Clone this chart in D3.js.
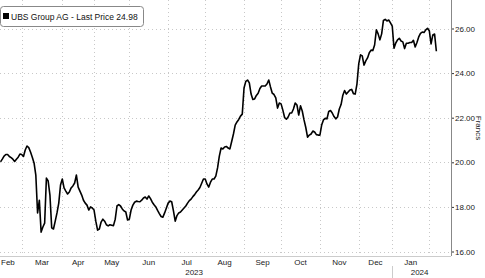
<!DOCTYPE html>
<html lang="en">
<head>
    <meta charset="UTF-8">
    <title>UBS Group AG - Last Price</title>
    <style>
        html, body { margin: 0; padding: 0; background: #fff; }
        svg { display: block; font-family: "Liberation Sans", Arial, sans-serif; }
        .grid line { stroke: #c8c8c8; stroke-width: 1; stroke-dasharray: 1,3; shape-rendering: crispEdges; }
        .tick-label { font-size: 8px; fill: #222; }
    </style>
</head>
<body>
    <svg width="485" height="278"></svg>
    <script src="https://d3js.org/d3.v7.min.js"></script>
    <script>
        // daily closing prices (CHF), one per trading session, mid Feb 2023 -> early Feb 2024
        const prices = [
            20.02, 20.14, 20.28, 20.35, 20.35, 20.26, 20.21, 20.14, 20.04, 20.14,
            20.23, 20.37, 20.35, 20.26, 20.55, 20.73, 20.66, 20.46, 20.23, 19.97,
            19.43, 17.73, 18.30, 16.87, 17.10, 17.27, 19.29, 19.16, 18.53, 17.06,
            17.01, 17.36, 17.73, 18.17, 18.98, 19.25, 18.85, 18.71, 18.58, 18.67,
            18.85, 18.94, 19.07, 19.43, 18.89, 18.71, 18.53, 18.30, 18.17, 18.08,
            17.86, 18.00, 17.95, 17.86, 17.36, 16.96, 17.01, 17.32, 17.45, 17.36,
            17.20, 17.15, 17.20, 17.18, 17.16, 17.45, 18.04, 18.10, 18.04, 17.91,
            17.82, 17.77, 17.41, 17.45, 17.86, 18.08, 18.21, 18.26, 18.24, 18.23,
            18.30, 18.40, 18.44, 18.35, 18.49, 18.37, 18.21, 18.10, 18.00, 17.84,
            17.70, 17.57, 17.54, 17.73, 17.95, 18.17, 18.26, 18.23, 17.82, 17.36,
            17.61, 17.73, 17.77, 17.86, 17.95, 18.04, 18.17, 18.28, 18.35, 18.46,
            18.55, 18.67, 18.76, 18.87, 19.06, 19.25, 19.25, 19.03, 18.89, 19.11,
            19.25, 19.25, 19.38, 19.75, 20.28, 20.64, 20.60, 20.69, 20.71, 20.64,
            20.60, 20.93, 21.27, 21.67, 21.81, 21.92, 22.07, 22.16, 23.33, 23.63,
            23.69, 23.56, 23.06, 22.82, 22.84, 23.00, 23.10, 23.31, 23.42, 23.42,
            23.42, 23.51, 23.69, 23.38, 23.10, 23.04, 22.89, 22.43, 22.66, 22.62,
            22.34, 22.01, 21.93, 22.03, 22.21, 22.21, 22.39, 22.66, 22.57, 22.12,
            22.53, 22.30, 21.90, 21.56, 21.13, 21.22, 21.27, 21.40, 21.36, 21.24,
            21.22, 21.22, 21.67, 21.90, 21.97, 21.95, 22.28, 22.32, 22.21, 22.05,
            21.95, 22.03, 22.39, 22.59, 23.01, 23.22, 23.06, 23.15, 23.24, 23.27,
            23.08, 23.06, 23.51, 24.41, 24.82, 24.77, 24.36, 24.55, 24.68, 24.91,
            25.03, 25.01, 25.26, 25.94, 25.76, 25.49, 25.76, 26.36, 26.41, 26.34,
            26.38, 26.25, 26.11, 25.12, 25.35, 25.49, 25.56, 25.44, 25.40, 25.10,
            25.34, 25.34, 25.37, 25.37, 25.47, 25.17, 25.37, 25.62, 25.78, 25.84,
            25.82, 25.94, 26.01, 25.90, 25.31, 25.71, 25.75, 24.98
        ];

        // month labels and the session index where each month begins
        const monthNames = ["Feb", "Mar", "Apr", "May", "Jun", "Jul", "Aug", "Sep", "Oct", "Nov", "Dec", "Jan"];
        const monthStarts = [-8, 12, 35, 53, 73, 95, 116, 138, 159, 181, 203, 222, 243];
        const yearNames = ["2023", "2024"];
        const yearStarts = [-8, 222];
        const yTicks = [16, 18, 20, 22, 24, 26];

        const svg = d3.select("svg");
        const plotRight = 451;
        const plotBottom = 256;

        const x = d3.scaleLinear().domain([-0.3, 255.3]).range([0, plotRight]);
        const y = d3.scaleLinear().domain([16, 26]).range([251.5, 28.5]);

        // gridlines
        const grid = svg.append("g").attr("class", "grid");
        grid.selectAll(".h")
            .data(yTicks)
            .enter().append("line")
            .attr("x1", 0).attr("x2", plotRight)
            .attr("y1", d => Math.round(y(d)) + 0.5).attr("y2", d => Math.round(y(d)) + 0.5);
        grid.selectAll(".v")
            .data(monthStarts.filter(d => x(d) > 0))
            .enter().append("line")
            .attr("x1", d => Math.round(x(d)) + 0.5).attr("x2", d => Math.round(x(d)) + 0.5)
            .attr("y1", 0).attr("y2", plotBottom);

        // right axis
        const yAxis = d3.axisRight(y).tickValues(yTicks).tickSize(3).tickFormat(d3.format(".2f"));
        const ay = svg.append("g")
            .attr("transform", `translate(${plotRight},0)`)
            .call(yAxis);
        ay.select(".domain").remove();
        ay.selectAll(".tick line").attr("stroke", "#333");
        ay.selectAll(".tick text")
            .attr("class", "tick-label")
            .attr("x", 4)
            .attr("font-size", null).attr("font-family", null);
        svg.append("line")
            .attr("x1", plotRight + 0.5).attr("x2", plotRight + 0.5)
            .attr("y1", 0).attr("y2", plotBottom)
            .attr("stroke", "#888");
        svg.append("line")
            .attr("x1", 0).attr("x2", plotRight)
            .attr("y1", plotBottom + 0.5).attr("y2", plotBottom + 0.5)
            .attr("stroke", "#ccc");

        svg.append("text")
            .attr("class", "tick-label")
            .attr("transform", `translate(476,128) rotate(90)`)
            .attr("text-anchor", "middle")
            .text("Francs");

        // month labels centred in each month
        monthNames.forEach((m, i) => {
            const mid = x((monthStarts[i] + monthStarts[i + 1]) / 2);
            const t = svg.append("text")
                .attr("class", "tick-label")
                .attr("y", 265)
                .attr("text-anchor", "middle")
                .text(m);
            const w = t.node().getComputedTextLength();
            t.attr("x", Math.max(mid, w / 2 + 1));
        });

        // year labels centred over their visible span
        yearNames.forEach((yr, i) => {
            const a = Math.max(0, x(yearStarts[i]));
            const b = i + 1 < yearStarts.length ? x(yearStarts[i + 1]) : plotRight;
            svg.append("text")
                .attr("class", "tick-label")
                .attr("x", (a + b) / 2 - 2)
                .attr("y", 275)
                .attr("text-anchor", "middle")
                .text(yr);
        });
        svg.append("line")
            .attr("x1", Math.round(x(yearStarts[1])) + 0.5).attr("x2", Math.round(x(yearStarts[1])) + 0.5)
            .attr("y1", 266).attr("y2", 278)
            .attr("stroke", "#ccc");

        // price line
        const line = d3.line()
            .x((d, i) => x(i))
            .y(d => y(d));
        svg.append("path")
            .datum(prices)
            .attr("fill", "none")
            .attr("stroke", "#000")
            .attr("stroke-width", 1.6)
            .attr("stroke-linejoin", "round")
            .attr("d", line);

        // legend
        const lg = svg.append("g");
        lg.append("rect")
            .attr("x", 0.5).attr("y", 6.5)
            .attr("width", 143).attr("height", 20)
            .attr("rx", 3)
            .attr("fill", "#fff")
            .attr("stroke", "#888");
        lg.append("rect")
            .attr("x", 3).attr("y", 13)
            .attr("width", 6).attr("height", 6)
            .attr("fill", "#000");
        lg.append("text")
            .attr("x", 11).attr("y", 19.5)
            .attr("font-size", 8.5)
            .attr("fill", "#111")
            .text("UBS Group AG - Last Price " + prices[prices.length - 1].toFixed(2));
    </script>
</body>
</html>
